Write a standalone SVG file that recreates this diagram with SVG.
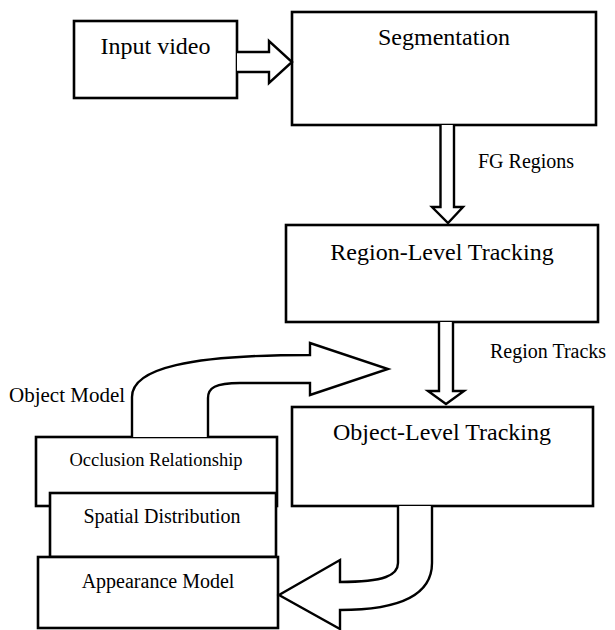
<svg xmlns="http://www.w3.org/2000/svg" width="615" height="630" viewBox="0 0 615 630">
<style>
.box{fill:#fff;stroke:#000;stroke-width:2.6}
.arr{fill:#fff;stroke:#000;stroke-width:2.4;stroke-linejoin:miter}
text{font-family:"Liberation Serif","Times New Roman",serif;fill:#000}
.t24{font-size:24px;text-anchor:middle}
.t20{font-size:20px}
.c20{font-size:20px;text-anchor:middle}
</style>
<rect width="615" height="630" fill="#fff"/>
<g id="input-video"><rect class="box" x="74" y="21" width="163" height="77"/><text class="t24" x="155.5" y="54">Input video</text></g>
<g id="segmentation"><rect class="box" x="292" y="12" width="304" height="113"/><text class="t24" x="444" y="45">Segmentation</text></g>
<g id="region-level"><rect class="box" x="286" y="225" width="312" height="97"/><text class="t24" x="442" y="260">Region-Level Tracking</text></g>
<g id="object-level"><rect class="box" x="292" y="407" width="301" height="99"/><text class="t24" x="442" y="440">Object-Level Tracking</text></g>
<g id="occlusion"><rect class="box" x="36" y="437" width="241" height="69"/><text class="c20" x="156" y="466" style="font-size:18.5px">Occlusion Relationship</text></g>
<g id="spatial"><rect class="box" x="50" y="493" width="226" height="64"/><text class="c20" x="162" y="523">Spatial Distribution</text></g>
<g id="appearance"><rect class="box" x="38" y="557" width="240" height="71"/><text class="c20" x="158" y="588">Appearance Model</text></g>
<g id="connectors">
<path class="arr" d="M237,52 H269 V41 L292,62 L269,83 V72 H237"/>
<path class="arr" d="M440.5,125 V207 H432 L448,223 L463,207 H454 V125"/>
<path class="arr" d="M439,322 V391 H428 L446,404 L464,391 H453 V322"/>
<path class="arr" d="M132,437 V397 C132,368 190,355 310,355 V343 L388,369 L310,395 V383 H240 C215,383 208,388 208,398 V437"/>
<path class="arr" d="M398,506 V563 C398,575 385,582 340,582 V560 L279,595 L340,629 V610 C395,610 432,598 432,563 V506"/>
<text class="t20" x="478" y="168">FG Regions</text>
<text class="t20" x="490" y="358">Region Tracks</text>
<text class="t20" x="9" y="402" style="font-size:21px">Object Model</text>
</g>
</svg>
